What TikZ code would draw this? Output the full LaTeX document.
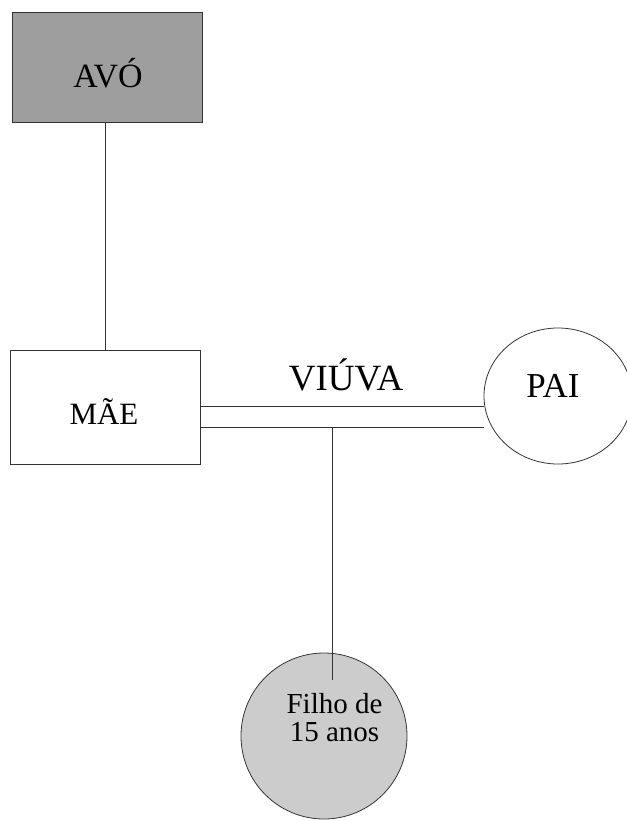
\documentclass[tikz,border=0pt]{standalone}
\usetikzlibrary{shapes.geometric}
\usepackage{fontspec}
\setmainfont{Liberation Serif}
\newfontfamily\tnr{Liberation Serif}
\begin{document}
\begin{tikzpicture}[x=1pt,y=-1pt,
  line/.style={draw=black!80,line width=0.8pt},
  lbl/.style={anchor=base,inner sep=0pt},
]
\useasboundingbox (0,0) rectangle (626,821);
\node[line,fill=black!38,minimum width=190pt,minimum height=110pt,inner sep=0pt] (avo) at (107,67) {};
\node[line,fill=white,minimum width=190pt,minimum height=114pt,inner sep=0pt] (mae) at (105,407) {};
\node[line,ellipse,fill=white,minimum width=148pt,minimum height=136pt,inner sep=0pt] (pai) at (558,396) {};
\node[line,circle,fill=black!20,minimum size=166pt,inner sep=0pt] (filho) at (324,736) {};
\node[lbl,font=\tnr\fontsize{34}{36}\selectfont] (avot) at (108,88) {AVÓ};
\node[lbl,font=\tnr\fontsize{31}{34}\selectfont] (maet) at (104,424) {MÃE};
\node[lbl,font=\tnr\fontsize{35}{38}\selectfont] (pait) at (553,397) {PAI};
\node[lbl,font=\tnr\fontsize{37}{40}\selectfont] (viuva) at (346,390) {VIÚVA};
\node[anchor=base,inner sep=0pt,align=center,font=\tnr\fontsize{29}{28}\selectfont] (filhot) at (334.5,741) {Filho de\\15 anos};
\coordinate (j) at (332,427);
\coordinate (e) at (332,680);
\draw[line] (mae.north |- avo.south) -- (mae.north);
\draw[line] (mae.east |- 0,406) -- (pai.west |- 0,406);
\draw[line] (mae.east |- j) -- (pai.west |- j);
\draw[line] (j) -- (e);
\end{tikzpicture}
\end{document}
